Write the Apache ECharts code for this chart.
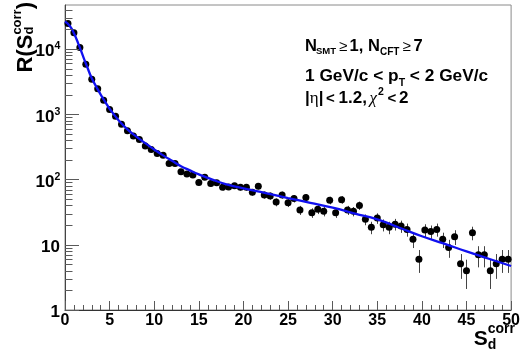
<!DOCTYPE html>
<html>
<head>
<meta charset="utf-8">
<script src="https://cdn.jsdelivr.net/npm/echarts@6/dist/echarts.min.js"></script>
<style>
  html, body { margin: 0; padding: 0; background: #ffffff; }
  #chart { width: 523px; height: 351px; }
</style>
</head>
<body>
<div id="chart"></div>
<script>
// Histogram of S_d^corr: 75 equal bins on [0, 50]
const binLow = 0;
const binHigh = 50;
const nBins = 75;

// Bin contents R(S_d^corr)
const rValues = [
  24600, 17700, 10500, 5850, 3450, 2450, 1640, 1180, 935, 705,
  560, 462, 411, 325, 289, 251, 236, 176, 176, 131,
  121, 117, 90, 108, 87, 89, 76, 77, 80, 76,
  76, 64, 79, 58, 56, 45, 58, 44, 51, 34,
  53, 31, 35, 32.5, 48, 31, 49, 34, 32.5, 40,
  24.5, 18.5, 25.6, 20.2, 18.5, 20.7, 19.3, 17.2, 12.1, 6.0,
  16.8, 16, 17.2, 12.1, 9.1, 13.3, 5.1, 4.0, 15.3, 7.0,
  7.0, 4.0, 5.1, 6.0, 6.0
];

// Statistical uncertainty of each bin
const rErrors = [
  146, 124, 95, 71, 55, 46, 38, 32, 28, 25,
  22, 20, 19, 17, 16, 15, 14, 12, 12, 11,
  10, 10, 8.8, 9.7, 8.7, 8.8, 8.1, 8.2, 8.3, 8.1,
  8.1, 7.4, 8.3, 7.1, 7.0, 6.2, 7.1, 6.2, 6.6, 5.4,
  6.8, 5.2, 5.5, 5.3, 6.4, 5.2, 6.5, 5.4, 5.3, 5.9,
  4.6, 4.0, 4.7, 4.2, 4.0, 4.2, 4.1, 3.9, 3.2, 2.3,
  3.8, 3.7, 3.9, 3.2, 2.8, 3.4, 2.1, 1.9, 3.6, 2.5,
  2.5, 1.9, 2.1, 2.3, 2.3
];

// Fitted curve, sampled along S_d^corr
const fitX = [0, 0.5, 1, 1.5, 2, 2.5, 3, 3.5, 4, 4.5, 5, 6, 7, 8, 9, 10, 11, 12, 13, 14,
  15, 16, 17, 18, 20, 22.5, 25, 27.5, 30, 32.5, 35, 37.5, 40, 42.5, 45, 47.5, 50];
const fitY = [26300, 22900, 17400, 12000, 7900, 5250, 3550, 2650, 2000, 1550, 1215, 810, 585, 455, 360, 288, 234, 193, 160, 138,
  120, 106, 94, 85, 73, 62, 52, 44, 37, 30, 24.5, 18.2, 13.5, 10.4, 7.9, 6.1, 4.72];

// Axis ranges and tick labels
const xMin = 0, xMax = 50, xTickStep = 5;
const yMin = 1, yMax = 47200;
const yDecades = [1, 10, 100, 1000, 10000];
const yDecadeLabels = [['1', ''], ['10', ''], ['10', '2'], ['10', '3'], ['10', '4']];

const binWidth = (binHigh - binLow) / nBins;
const binCenters = rValues.map((_, i) => binLow + (i + 0.5) * binWidth);

const yMinorTicks = [];
yDecades.forEach(d => {
  for (let m = 2; m <= 9; m++) {
    if (m * d <= yMax) yMinorTicks.push(m * d);
  }
});

const SANS = '"Liberation Sans", Arial, Helvetica, sans-serif';
const SERIF = '"Liberation Serif", "DejaVu Serif", serif';
const MID = 0.28;            // em-middle above the baseline
const TICK_COLOR = '#5a5a5a';

const measureCtx = document.createElement('canvas').getContext('2d');
function fontStr(size, weight, family, style) {
  return (style || 'normal') + ' ' + (weight || 'bold') + ' ' + size + 'px ' + (family || SANS);
}
function textWidth(text, font) {
  measureCtx.font = font;
  return measureCtx.measureText(text).width;
}
// A text piece placed by its baseline
function txt(text, x, base, size, o) {
  o = o || {};
  const align = o.align || 'left';
  return {
    type: 'text', x: x, y: base - MID * size, silent: true,
    style: {
      text: text, font: fontStr(size, o.weight, o.family, o.style), fill: '#000',
      align: align, verticalAlign: 'middle', textAlign: align, textVerticalAlign: 'middle'
    }
  };
}
// Lay out a row of pieces; a piece with x set starts there, else follows the previous one
function layoutRow(parts, x0, base0, size0) {
  let x = x0;
  return parts.map(p => {
    const size = p.size || size0;
    const base = p.base !== undefined ? p.base : base0;
    if (p.x !== undefined) x = p.x;
    const el = txt(p.t, x, base, size, p);
    x += textWidth(p.t, fontStr(size, p.weight, p.family, p.style));
    return el;
  });
}

// Cut annotations
const line1 = layoutRow([
  { t: 'N', x: 305 }, { t: 'SMT', x: 316, size: 9.5, base: 54.5 },
  { t: '\u2265', x: 339, size: 15, weight: 'normal' },
  { t: '1,', x: 349.5 }, { t: 'N', x: 368 }, { t: 'CFT', x: 380, size: 10, base: 55.5 },
  { t: '\u2265', x: 402.5, size: 15, weight: 'normal' }, { t: '7', x: 413.5 }
], 305, 51, 16.5);
const line2 = layoutRow([
  { t: '1 GeV/c < p' }, { t: 'T', size: 10.5, base: 86.5 }, { t: ' < 2 GeV/c' }
], 305, 80.7, 17.3);
const line3 = layoutRow([
  { t: '|', x: 305 }, { t: '\u03b7', family: SERIF, weight: 'normal' }, { t: '|' },
  { t: '<', x: 326, size: 15 }, { t: '1.2,', x: 338.5 },
  { t: '\u03c7', x: 369.5, family: SERIF, weight: 'normal', style: 'italic' },
  { t: '2', x: 378, size: 10.5, base: 95.5 },
  { t: '<', x: 387.5, size: 15 }, { t: '2', x: 399 }
], 305, 103.3, 17);

// Axis titles
const xtS = 21, xtScr = 14;
const xtWS = textWidth('S', fontStr(xtS));
const xtWC = textWidth('corr', fontStr(xtScr));
const xtStart = 515 - xtWS - xtWC;
const xTitle = [
  txt('S', xtStart, 345, xtS),
  txt('corr', xtStart + xtWS, 333, xtScr),
  txt('d', xtStart + xtWS, 349, xtScr)
];

const ytMain = 22, ytScr = 13;
const ytW1 = textWidth('R(S', fontStr(ytMain));
const ytWC = textWidth('corr', fontStr(ytScr));
const yTitle = {
  type: 'group', x: 32.5, y: 72.5, rotation: Math.PI / 2, silent: true,
  children: [
    txt('R(S', 0, 0, ytMain),
    txt('corr', ytW1, -11, ytScr),
    txt('d', ytW1, 1, ytScr),
    txt(')', ytW1 + ytWC, 0, ytMain)
  ]
};

const chart = echarts.init(document.getElementById('chart'), null, { renderer: 'canvas' });

const option = {
  animation: false,
  backgroundColor: '#ffffff',
  grid: {
    left: 65, top: 5, width: 448.5, height: 305,
    show: true, borderColor: '#8a8a8a', borderWidth: 1, backgroundColor: 'transparent'
  },
  xAxis: {
    type: 'value', min: xMin, max: xMax, interval: xTickStep,
    axisLine: { show: true, onZero: false, lineStyle: { color: '#333', width: 1 } },
    axisTick: { show: true, inside: true, length: 9, lineStyle: { color: TICK_COLOR, width: 1 } },
    minorTick: { show: true, splitNumber: 5, length: 5, lineStyle: { color: TICK_COLOR, width: 1 } },
    splitLine: { show: false },
    minorSplitLine: { show: false },
    axisLabel: {
      show: true, margin: 3, color: '#000', fontFamily: SANS, fontWeight: 'bold', fontSize: 16,
      showMinLabel: true, showMaxLabel: true
    }
  },
  yAxis: {
    type: 'log', logBase: 10, min: yMin, max: yMax,
    axisLine: { show: true, lineStyle: { color: '#444', width: 1 } },
    axisTick: { show: false }, axisLabel: { show: false },
    splitLine: { show: false }, minorTick: { show: false }
  },
  series: [
    {
      // vertical error bars
      type: 'custom', name: 'errors', z: 2, silent: true,
      data: binCenters.map((x, i) => [x, rValues[i] - rErrors[i], rValues[i] + rErrors[i]]),
      encode: { x: 0, y: [1, 2] },
      renderItem: function (params, api) {
        const lo = api.coord([api.value(0), api.value(1)]);
        const hi = api.coord([api.value(0), api.value(2)]);
        const x = Math.round(lo[0]) + 0.5;
        return {
          type: 'line',
          shape: { x1: x, y1: lo[1], x2: x, y2: hi[1] },
          style: { stroke: '#444', lineWidth: 1 }
        };
      }
    },
    {
      type: 'scatter', name: 'R', z: 3, silent: true,
      symbol: 'circle', symbolSize: 7,
      itemStyle: { color: '#000', opacity: 1 },
      data: binCenters.map((x, i) => [x, rValues[i]])
    },
    {
      type: 'line', name: 'fit', z: 4, silent: true,
      showSymbol: false, symbol: 'none', smooth: 0.5,
      lineStyle: { color: '#1010f0', width: 2.3 },
      data: fitX.map((x, i) => [x, fitY[i]])
    },
    {
      // y-axis ticks: decades long, 2..9 short
      type: 'custom', name: 'yTicks', z: 5, silent: true,
      data: yDecades.map(v => [0, v, 14]).concat(yMinorTicks.map(v => [0, v, 7.5])),
      renderItem: function (params, api) {
        const p = api.coord([0, api.value(1)]);
        const y = Math.round(p[1]) + 0.5;
        return {
          type: 'line',
          shape: { x1: p[0], y1: y, x2: p[0] + api.value(2), y2: y },
          style: { stroke: TICK_COLOR, lineWidth: 1 }
        };
      }
    },
    {
      // y-axis labels 1, 10, 10^2 ...
      type: 'custom', name: 'yLabels', z: 6, silent: true,
      data: yDecades.map((v, i) => [0, v, i]),
      renderItem: function (params, api) {
        const p = api.coord([0, api.value(1)]);
        const lab = yDecadeLabels[api.value(2)];
        const capC = p[1] + 1.3;
        const children = [];
        if (lab[1]) {
          children.push(txt(lab[0], 54.5, capC + 0.358 * 17, 17, { align: 'right' }));
          children.push(txt(lab[1], 54.5, capC - 4.5 + 0.358 * 10.5, 10.5));
        } else {
          children.push(txt(lab[0], 60, capC + 0.358 * 17, 17, { align: 'right' }));
        }
        return { type: 'group', children: children };
      }
    }
  ],
  graphic: {
    elements: [].concat(line1, line2, line3, xTitle, [yTitle])
  }
};

chart.setOption(option);
</script>
</body>
</html>
